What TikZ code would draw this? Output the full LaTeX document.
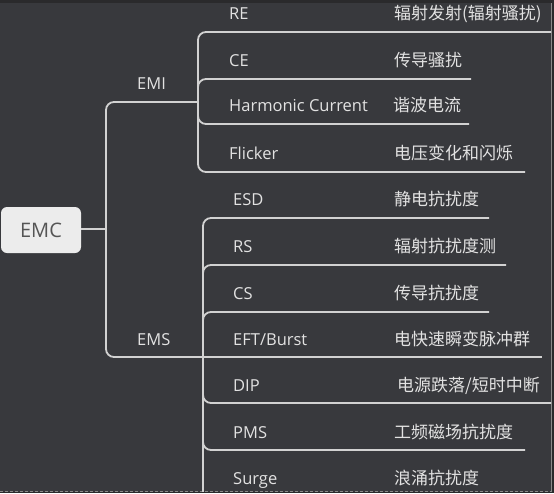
\documentclass[tikz,border=0pt]{standalone}
\usepackage{fontspec}
\setmainfont{Open Sans}
\newfontfamily\cjk{Noto Sans CJK SC}
\definecolor{bg}{HTML}{38393D}
\definecolor{edge}{HTML}{2A2A2C}
\definecolor{ln}{HTML}{D2D2D2}
\definecolor{txt}{HTML}{E2E2E2}
\definecolor{boxfill}{HTML}{ECECEC}
\definecolor{boxtxt}{HTML}{555555}
\definecolor{frame}{HTML}{8A8A8A}
\tikzset{
  conn/.style={draw=ln, line width=1.8pt, rounded corners=8pt},
  en/.style={anchor=base west, inner sep=0pt, text=txt, font=\fontsize{16.5}{18}\selectfont},
  zh/.style={anchor=base west, inner sep=0pt, text=txt, font=\cjk\fontsize{17}{18}\selectfont},
  root/.style={fill=boxfill, rounded corners=6pt, minimum width=80pt, minimum height=46pt, inner sep=0pt, text=boxtxt, font=\fontsize{20}{22}\selectfont}
}
\begin{document}
\begin{tikzpicture}[x=1pt,y=-1pt]
\useasboundingbox (0,0) rectangle (554,493);
\fill[bg] (0,0) rectangle (554,493);
% frame
\fill[edge] (0,0) rectangle (554,3);
\fill[edge] (552,0) rectangle (554,493);
\fill[edge] (0,492) rectangle (554,493);
\draw[frame, line width=1pt] (551.5,3) -- (551.5,491);
\draw[frame, line width=1pt, dash pattern=on 3pt off 2pt] (0,491) -- (551.5,491);

% root
\node[root] (emc) at (41,230) {EMC};
\coordinate (hub) at (106,229);
\draw[conn] (emc.east |- hub) -- (hub);

% level 1
\node[en] (emi) at (137,89) {EMI};
\node[en] (ems) at (137,345) {EMS};
\coordinate (emiJ) at (198,102);
\coordinate (emsJ) at (203,357);
\draw[conn] (hub) -- (hub |- emiJ) -- (emiJ);
\draw[conn] (hub) -- (hub |- emsJ) -- (emsJ);

% EMI children
\node[en] (re) at (229,19) {RE};
\node[zh] (rez) at (394,19) {辐射发射(辐射骚扰)};
\node[en] (ce) at (229,66) {CE};
\node[zh] (cez) at (394,66) {传导骚扰};
\node[en] (hc) at (229,111) {Harmonic Current};
\node[zh] (hcz) at (393,111) {谐波电流};
\node[en] (fl) at (229,159) {Flicker};
\node[zh] (flz) at (394,159) {电压变化和闪烁};

\coordinate (reE) at (551,32);
\coordinate (ceE) at (471,79);
\coordinate (hcE) at (469,124);
\coordinate (flE) at (525,172);
\draw[conn] (emiJ) -- (emiJ |- reE) -- (reE);
\draw[conn] (emiJ) -- (emiJ |- ceE) -- (ceE);
\draw[conn] (emiJ) -- (emiJ |- hcE) -- (hcE);
\draw[conn] (emiJ) -- (emiJ |- flE) -- (flE);

% EMS children
\node[en] (esd) at (233,205) {ESD};
\node[zh] (esdz) at (394,205) {静电抗扰度};
\node[en] (rs) at (233,252) {RS};
\node[zh] (rsz) at (394,252) {辐射抗扰度测};
\node[en] (cs) at (233,299) {CS};
\node[zh] (csz) at (394,299) {传导抗扰度};
\node[en] (eft) at (233,345) {EFT/Burst};
\node[zh] (eftz) at (394,345) {电快速瞬变脉冲群};
\node[en] (dip) at (233,391) {DIP};
\node[zh] (dipz) at (397,391) {电源跌落/短时中断};
\node[en] (pms) at (233,438) {PMS};
\node[zh] (pmsz) at (394,438) {工频磁场抗扰度};
\node[en] (sg) at (233,484) {Surge};
\node[zh] (sgz) at (394,484) {浪涌抗扰度};

\coordinate (esdE) at (489,218);
\coordinate (rsE) at (506,265);
\coordinate (csE) at (489,312);
\coordinate (eftE) at (542,357);
\coordinate (dipE) at (551,403);
\coordinate (pmsE) at (525,450);
\coordinate (sgE) at (560,500);
\draw[conn] (emsJ) -- (emsJ |- esdE) -- (esdE);
\draw[conn] (emsJ) -- (emsJ |- rsE) -- (rsE);
\draw[conn] (emsJ) -- (emsJ |- csE) -- (csE);
\draw[conn] (emsJ) -- (eftE);
\draw[conn] (emsJ) -- (emsJ |- dipE) -- (dipE);
\draw[conn] (emsJ) -- (emsJ |- pmsE) -- (pmsE);
\begin{scope}
\clip (0,0) rectangle (554,491);
\draw[conn] (emsJ) -- (emsJ |- sgE);
\end{scope}
\end{tikzpicture}
\end{document}
